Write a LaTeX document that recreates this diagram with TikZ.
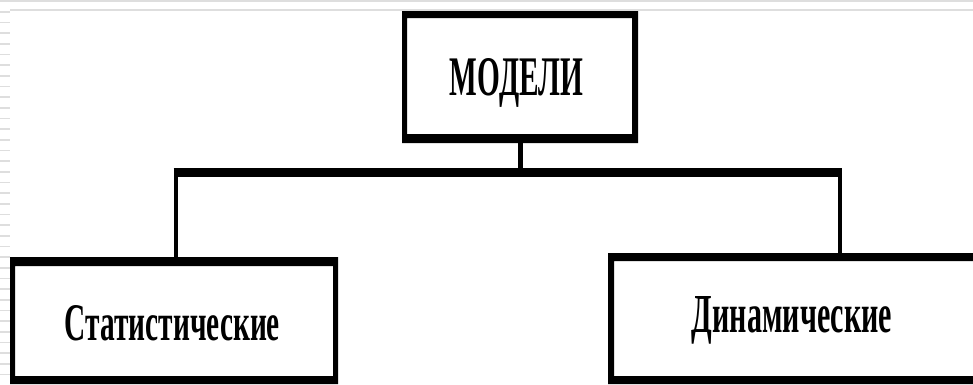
\documentclass[tikz,border=0pt]{standalone}
\usepackage{fontspec}
\setmainfont{Liberation Serif}
\tikzset{
  boxnode/.style={draw=none, inner sep=0pt, outer sep=0pt},
  lbl/.style={anchor=base, inner sep=0pt, outer sep=0pt},
  conn/.style={line cap=butt, draw=black},
  artifact/.style={draw=black!13, line width=1.6pt}
}
% frame with individual border widths: name, left, top, right, bottom
\newcommand\myThickFrame[5]{%
  \fill[black, even odd rule] (#1.north west) rectangle (#1.south east)
    ([xshift=#2pt, yshift=-#3pt]#1.north west) rectangle ([xshift=-#4pt, yshift=#5pt]#1.south east);}
\begin{document}
\begin{tikzpicture}[x=1pt, y=-1pt]
\useasboundingbox (0,0) rectangle (973,384);
\clip (0,0) rectangle (973,384);
\fill[white] (0,0) rectangle (973,384);
% faint slide artifacts
\draw[artifact] (0,0.8) -- (973,0.8);
\draw[artifact] (10,10) -- (973,10);
\foreach \i in {0,...,34} \draw[artifact] (0,11.7+10.67*\i) -- (10,11.7+10.67*\i);
% boxes
\node[boxnode, minimum width=236pt, minimum height=132pt] (top) at (520,77) {};
\node[boxnode, minimum width=328pt, minimum height=127pt] (left) at (174,320.5) {};
\node[boxnode, minimum width=372pt, minimum height=131pt] (right) at (794,318.5) {};
\myThickFrame{top}{5}{7}{6}{9}
\myThickFrame{left}{5}{9}{5}{8}
\myThickFrame{right}{6}{8}{6}{8}
% connectors
\coordinate (barL) at (175.5,172.5);
\coordinate (barR) at (840,172.5);
\draw[conn, line width=9pt] ([xshift=-2pt]barL) -- ([xshift=2pt]barR);
\draw[conn, line width=5pt] (top.south) -- (top.south |- barL);
\draw[conn, line width=4pt] (barL) -- (barL |- left.north);
\draw[conn, line width=4pt] (barR) -- (barR |- right.north);
% labels
\node[lbl] (tTop) at (516.5,95) {\resizebox{133pt}{37pt}{\bfseries МОДЕЛИ}};
\node[lbl] (tLeft) at (172.5,340) {\resizebox{215pt}{35pt}{\bfseries Статистические}};
\node[lbl] (tRight) at (792,332.5) {\resizebox{200pt}{36pt}{\bfseries Динамические}};
\end{tikzpicture}
\end{document}
